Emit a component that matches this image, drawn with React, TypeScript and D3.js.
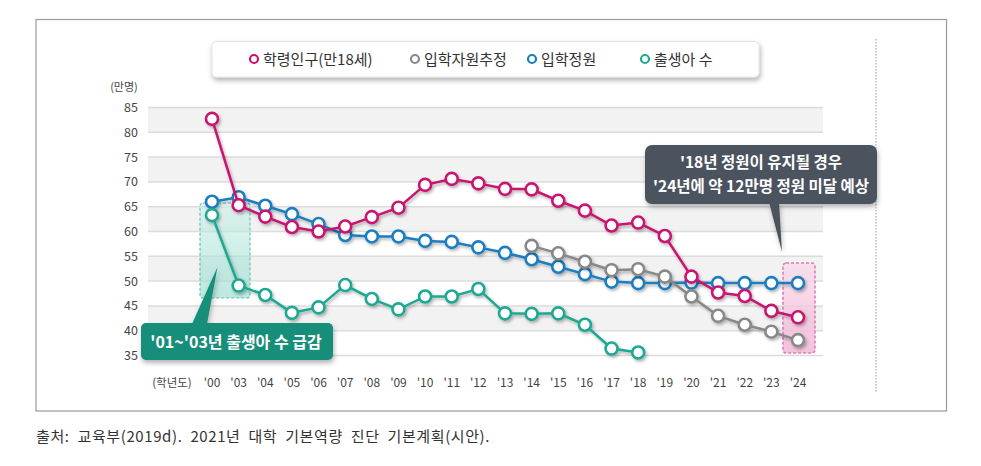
import React from "react";
import * as d3 from "d3";

const years = ["'00","'03","'04","'05","'06","'07","'08","'09","'10","'11","'12","'13","'14","'15","'16","'17","'18","'19","'20","'21","'22","'23","'24"];
const yTicks = [35, 40, 45, 50, 55, 60, 65, 70, 75, 80, 85];

const schoolAge = [82.7, 65.3, 63.0, 60.9, 60.0, 61.0, 62.9, 64.8, 69.4, 70.6, 69.7, 68.6, 68.5, 66.2, 64.2, 61.2, 61.8, 59.1, 50.9, 47.7, 47.0, 44.0, 42.7];
const quota = [66.0, 66.9, 65.2, 63.5, 61.5, 59.3, 59.0, 59.0, 58.1, 57.9, 56.8, 55.7, 54.4, 52.9, 51.4, 49.9, 49.6, 49.6, 49.7, 49.6, 49.6, 49.6, 49.6];
const estYears = ["'14","'15","'16","'17","'18","'19","'20","'21","'22","'23","'24"];
const estimate = [57.1, 55.6, 53.9, 52.2, 52.4, 50.9, 46.9, 43.0, 41.2, 39.8, 38.1];
const birthYears = ["'00","'03","'04","'05","'06","'07","'08","'09","'10","'11","'12","'13","'14","'15","'16","'17","'18"];
const births = [63.3, 49.1, 47.2, 43.6, 44.7, 49.2, 46.4, 44.3, 46.9, 46.9, 48.4, 43.5, 43.4, 43.5, 41.2, 36.4, 35.6];

const legendLabels = ["학령인구(만18세)", "입학자원추정", "입학정원", "출생아 수"];
const colors = { red: "#c8156f", gray: "#888888", blue: "#1a7dc0", green: "#1fa892" };

const FONT = "'Noto Sans CJK KR', 'Noto Sans', sans-serif";

export default function App() {
  const x = d3.scalePoint<string>().domain(years).range([212, 798]);
  const y = d3.scaleLinear().domain([35, 85]).range([355.5, 107.5]);
  const line = d3.line<[string, number]>().x((d) => x(d[0]) as number).y((d) => y(d[1]));

  const series = [
    { key: "blue", cats: years, vals: quota, color: colors.blue },
    { key: "gray", cats: estYears, vals: estimate, color: colors.gray },
    { key: "red", cats: years, vals: schoolAge, color: colors.red },
    { key: "green", cats: birthYears, vals: births, color: colors.green },
  ];

  const gridL = 148, gridR = 823;
  const bands = yTicks.slice(0, -1).map((t, i) => ({ lo: t, hi: yTicks[i + 1], gray: (yTicks.length - 2 - i) % 2 === 0 }));

  const legendItems = [
    { label: legendLabels[0], color: colors.red, cx: 254 },
    { label: legendLabels[1], color: colors.gray, cx: 415 },
    { label: legendLabels[2], color: colors.blue, cx: 532 },
    { label: legendLabels[3], color: colors.green, cx: 645 },
  ];

  return (
    <svg width={981} height={466} style={{ position: "absolute", left: 0, top: 0, background: "#fff" }} fontFamily={FONT}>
      <defs>
        <filter id="sh" x="-20%" y="-20%" width="140%" height="150%">
          <feDropShadow dx="1.5" dy="2" stdDeviation="1.5" floodColor="#000" floodOpacity="0.3" />
        </filter>
        <filter id="boxsh" x="-10%" y="-30%" width="120%" height="180%">
          <feDropShadow dx="1" dy="3" stdDeviation="2.5" floodColor="#000" floodOpacity="0.3" />
        </filter>
        <linearGradient id="greenHL" x1="0" y1="0" x2="0" y2="1">
          <stop offset="0" stopColor="#c9efe8" stopOpacity="0.55" />
          <stop offset="1" stopColor="#8fd9cb" stopOpacity="0.6" />
        </linearGradient>
        <linearGradient id="pinkHL" x1="0" y1="0" x2="0" y2="1">
          <stop offset="0" stopColor="#f9d9ea" stopOpacity="0.75" />
          <stop offset="1" stopColor="#efb3d3" stopOpacity="0.8" />
        </linearGradient>
      </defs>

      {/* outer frame */}
      <rect x={36} y={19.5} width={910.5} height={391.5} fill="#fff" stroke="#999" strokeWidth={1.2} />
      <line x1={876} x2={876} y1={39} y2={392} stroke="#999" strokeDasharray="1.5,1.5" />

      {/* legend */}
      <rect x={212} y={41.5} width={547} height={35.5} rx={4} fill="#fff" stroke="#e2e2e2" filter="url(#boxsh)" />
      {legendItems.map((d) => (
        <g key={d.label}>
          <circle cx={d.cx} cy={59} r={4} fill="#fff" stroke={d.color} strokeWidth={2.2} />
          <text x={d.cx + 9} y={64.5} fontSize={15} fill="#333">{d.label}</text>
        </g>
      ))}

      {/* grid bands */}
      {bands.map((b) => (
        <rect key={b.lo} x={gridL} width={gridR - gridL} y={y(b.hi)} height={y(b.lo) - y(b.hi)} fill={b.gray ? "#f2f2f2" : "#ffffff"} />
      ))}
      {yTicks.map((t) => (
        <line key={t} x1={gridL} x2={gridR} y1={y(t)} y2={y(t)} stroke="#dcdcdc" strokeWidth={1.5} />
      ))}

      {/* y axis labels */}
      <text x={124} y={91} fontSize={11} fill="#444" textAnchor="middle">(만명)</text>
      {yTicks.map((t) => (
        <text key={t} x={138} y={y(t) + 4.5} fontSize={12.5} fill="#444" textAnchor="end">{t}</text>
      ))}

      {/* x axis labels */}
      <text x={172} y={387} fontSize={11.5} fill="#444" textAnchor="middle">(학년도)</text>
      {years.map((c) => (
        <text key={c} x={x(c)} y={387} fontSize={12} fill="#444" textAnchor="middle">{c}</text>
      ))}

      {/* highlight boxes */}
      <rect x={200} y={203} width={50} height={95} rx={3} fill="url(#greenHL)" stroke="#62c3b3" strokeWidth={1.2} strokeDasharray="3,2" />
      <rect x={783} y={263} width={32} height={90} rx={3} fill="url(#pinkHL)" stroke="#e27bb3" strokeWidth={1.6} strokeDasharray="3,2" />

      {/* series */}
      {series.map((s) => {
        const pts: [string, number][] = s.cats.map((c, i) => [c, s.vals[i]]);
        return (
          <g key={s.key} filter="url(#sh)">
            <path d={line(pts) || ""} fill="none" stroke={s.color} strokeWidth={2.5} />
            {pts.map((p) => (
              <circle key={p[0]} cx={x(p[0])} cy={y(p[1])} r={6} fill="#fff" stroke={s.color} strokeWidth={2.6} />
            ))}
          </g>
        );
      })}

      {/* green callout */}
      <g filter="url(#boxsh)">
        <path d="M192,324 L217.5,267 L207,324 Z" fill="#138e79" />
        <rect x={141} y={323} width={192} height={37} rx={5} fill="#138e79" />
      </g>
      <text x={236} y={348} fontSize={16} fontWeight="bold" fill="#fff" textAnchor="middle">'01~'03년 출생아 수 급감</text>

      {/* dark callout */}
      <g filter="url(#boxsh)">
        <path d="M769,202 L782,252 L779,202 Z" fill="#4b535e" />
        <rect x={645} y={145} width={232} height={59} rx={7} fill="#4b535e" />
      </g>
      <text x={761} y={168} fontSize={15.5} fontWeight="bold" fill="#fff" textAnchor="middle">'18년 정원이 유지될 경우</text>
      <text x={761} y={192} fontSize={15.5} fontWeight="bold" fill="#fff" textAnchor="middle">'24년에 약 12만명 정원 미달 예상</text>

      {/* source */}
      <text x={36} y={442} fontSize={15} fill="#333" wordSpacing={4} letterSpacing={0.6}>출처: 교육부(2019d). 2021년 대학 기본역량 진단 기본계획(시안).</text>
    </svg>
  );
}
